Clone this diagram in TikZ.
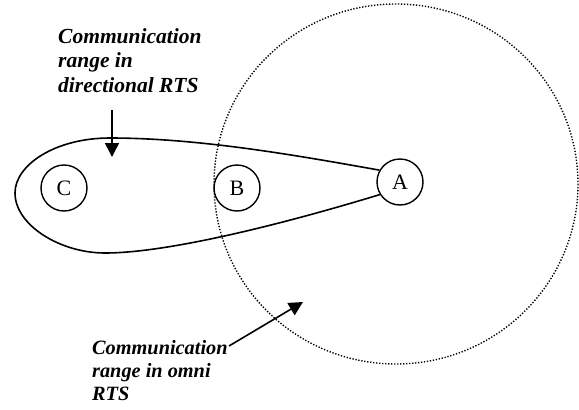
\documentclass[tikz,border=0pt]{standalone}
\usepackage{fontspec}
\setmainfont{Liberation Serif}
\usetikzlibrary{arrows.meta}

\begin{document}
\begin{tikzpicture}[x=1pt,y=-1pt,
    station/.style={draw, thick, line width=1.4pt, circle, minimum size=46pt, inner sep=0pt, font=\fontsize{22}{24}\selectfont},
    rangenote/.style={align=left, inner sep=0pt, anchor=north west, font=\bfseries\itshape},
    pointer/.style={line width=1.6pt, -{Triangle[length=14pt,width=14pt]}}]
\useasboundingbox (0,0) rectangle (579,410);

% omni range
\draw[line width=1.4pt, dash pattern=on 1.3pt off 1.7pt] (396,184) ellipse [x radius=182, y radius=180];

% stations
\node[station] (C) at (64,188) {C};
\node[station] (B) at (237,188) {B};
\node[station] (A) at (400,182) {A};

% directional range
\draw[line width=1.6pt] (A.150) .. controls (300,156) and (200,138) .. (110,138)
    .. controls (55,138) and (15,165) .. (15,193)
    .. controls (15,225) and (60,253) .. (105,253)
    .. controls (170,253) and (290,222) .. (A.212);

% labels
\node[rangenote, font=\bfseries\itshape\fontsize{21.5}{24.5}\selectfont] (dirnote) at (58,28)
    {Communication\\range in\\directional RTS};
\node[rangenote, font=\bfseries\itshape\fontsize{20.3}{23}\selectfont] (omninote) at (92,340)
    {Communication\\range in omni\\RTS};

\coordinate (dirstart) at (112,110);
\coordinate (dirend) at (112,157);
\coordinate (omnistart) at (229,346);
\coordinate (omniend) at (303,302);
\draw[pointer] (dirstart) -- (dirend);
\draw[pointer] (omnistart) -- (omniend);
\end{tikzpicture}
\end{document}
